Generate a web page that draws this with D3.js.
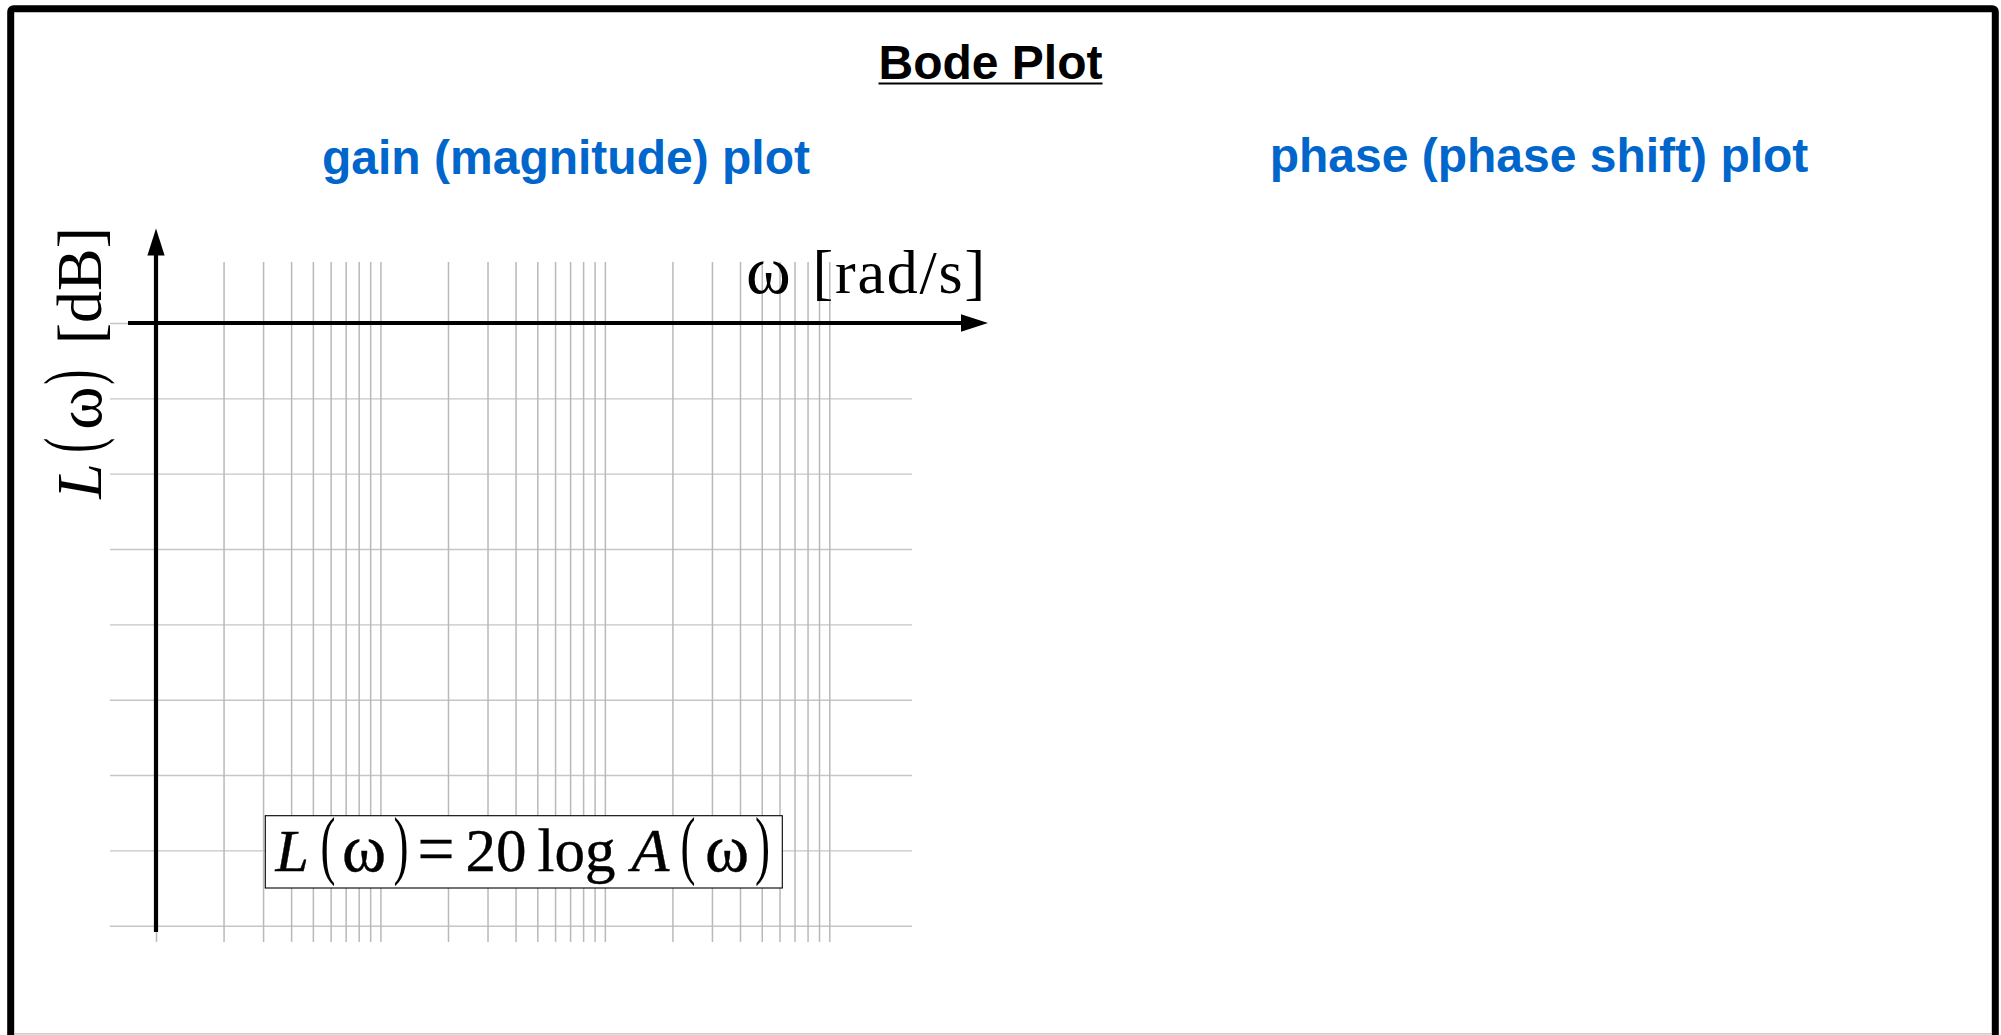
<!DOCTYPE html>
<html>
<head>
<meta charset="utf-8">
<script src="https://cdn.jsdelivr.net/npm/d3@7"></script>
<style>
  html, body { margin: 0; padding: 0; background: #fff; overflow: hidden; }
  svg { display: block; }
</style>
</head>
<body>
<svg id="chart" width="2001" height="1035"></svg>
<script>
// ---- content -------------------------------------------------------------
const chartTitle   = "Bode Plot";
const panelTitles  = ["gain (magnitude) plot", "phase (phase shift) plot"];
const freqDomain   = [1, 1000];                                        // ω in rad/s, three decades
const dbLevels     = [0, -20, -40, -60, -80, -100, -120, -140, -160];  // L(ω) grid levels in dB
const xAxisLabel   = ["ω", "[rad/s]"];
const yAxisUnit    = "[dB]";
// L(ω) = 20 log A(ω), one entry per typeset piece
const formulaText  = ["L", "(", "ω", ")", "=", "20", "log", "A", "(", "ω", ")"];

// ---- styling / layout ----------------------------------------------------
const SANS  = "'Liberation Sans', Arial, sans-serif";
const SERIF = "'Liberation Serif', 'Times New Roman', serif";
const BLUE  = "#0066cc";

const svg = d3.select("#chart");

// outer frame
svg.append("rect")
  .attr("x", 10.7).attr("y", 8.7)
  .attr("width", 1984.6).attr("height", 1070)
  .attr("rx", 3)
  .attr("fill", "#fff").attr("stroke", "#000").attr("stroke-width", 7);
svg.append("line")
  .attr("x1", 14).attr("x2", 1992).attr("y1", 1033.8).attr("y2", 1033.8)
  .attr("stroke", "#bdbdbd").attr("stroke-width", 1.3);

// titles
const title = svg.append("text")
  .attr("x", 990.5).attr("y", 79)
  .attr("text-anchor", "middle")
  .attr("font-family", SANS).attr("font-weight", "bold").attr("font-size", 48)
  .attr("fill", "#000")
  .text(chartTitle);
const tw = title.node().getComputedTextLength();
svg.append("line")
  .attr("x1", 990.5 - tw / 2).attr("x2", 990.5 + tw / 2)
  .attr("y1", 83.5).attr("y2", 83.5)
  .attr("stroke", "#000").attr("stroke-width", 2.2);

svg.selectAll("text.panel-title")
  .data(panelTitles)
  .join("text")
  .attr("class", "panel-title")
  .attr("x", (d, i) => [566, 1539][i])
  .attr("y", (d, i) => [174, 171.5][i])
  .attr("text-anchor", "middle")
  .attr("font-family", SANS).attr("font-weight", "bold").attr("font-size", 48)
  .attr("fill", BLUE)
  .text(d => d);

// ---- gain plot scales & grid ----------------------------------------------
const x = d3.scaleLog().domain(freqDomain).range([156, 829.3]);
const y = d3.scaleLinear().domain([dbLevels[0], dbLevels[dbLevels.length - 1]]).range([323, 925.7]);

const gridLeft = 110, gridRight = 912;
const vTop = 262, vBottom = 942;

// horizontal dB grid lines
const hGrid = svg.append("g")
  .attr("transform", `translate(${gridLeft},0)`)
  .call(d3.axisLeft(y).tickValues(dbLevels).tickSize(-(gridRight - gridLeft)).tickFormat(""));
hGrid.select(".domain").remove();
hGrid.selectAll(".tick line").attr("stroke", "#c6c6c6").attr("stroke-width", 1.4);

// vertical log-frequency grid lines (1..9 per decade)
const vGrid = svg.append("g")
  .attr("transform", `translate(0,${vTop})`)
  .call(d3.axisTop(x).tickValues(x.ticks()).tickSize(-(vBottom - vTop)).tickFormat(""));
vGrid.select(".domain").remove();
vGrid.selectAll(".tick line").attr("stroke", "#b9b9b9").attr("stroke-width", 1.5);

// ---- axes with arrow heads -----------------------------------------------
const ax0 = x(freqDomain[0]);
const ay0 = y(dbLevels[0]);

svg.append("line")
  .attr("x1", ax0).attr("x2", ax0).attr("y1", 250).attr("y2", 932)
  .attr("stroke", "#000").attr("stroke-width", 4.2);
svg.append("path")
  .attr("d", `M${ax0},228.5 L${ax0 - 8.6},255.5 L${ax0 + 8.6},255.5 Z`)
  .attr("fill", "#000");

svg.append("line")
  .attr("x1", 128).attr("x2", 966).attr("y1", ay0).attr("y2", ay0)
  .attr("stroke", "#000").attr("stroke-width", 4.2);
svg.append("path")
  .attr("d", `M988,${ay0} L961,${ay0 - 8.7} L961,${ay0 + 8.7} Z`)
  .attr("fill", "#000");

// x-axis label
const xl = svg.append("text")
  .attr("y", 293.3)
  .attr("font-family", SERIF).attr("font-size", 62).attr("fill", "#000");
xl.append("tspan").attr("x", 746).attr("font-size", 68).text(xAxisLabel[0]);
xl.append("tspan").attr("x", 812.5).attr("letter-spacing", 1.8).text(xAxisLabel[1]);

// ---- math typesetting ------------------------------------------------------
// per-piece horizontal offset (px) and font size relative to the base size
const italicPieces = new Set(["L", "A"]);
const PAREN_FS = 45;

function typeset(g, pieces, offsets, sizes, opts) {
  pieces.forEach((p, i) => {
    const px = offsets[i];
    if (p === "(" || p === ")") {
      // tall, thin stretchy delimiters
      g.append("text")
        .attr("transform", `translate(${px},${opts.parenCenter}) scale(1,${opts.parenScale})`)
        .attr("y", 0.25 * PAREN_FS)
        .attr("font-family", SERIF).attr("font-size", PAREN_FS).attr("fill", "#000")
        .text(p);
    } else {
      const t = g.append("text")
        .attr("x", px).attr("y", p === "=" ? 1.5 : 0)
        .attr("font-family", SERIF).attr("font-size", sizes[i]).attr("fill", "#000")
        .attr("font-style", italicPieces.has(p) ? "italic" : "normal")
        .attr("stroke", "#000").attr("stroke-width", opts.weight || 0)
        .text(p);
      if (p === "=") t.attr("textLength", 37).attr("lengthAdjust", "spacingAndGlyphs");
    }
  });
}

// formula box
svg.append("rect")
  .attr("x", 265.3).attr("y", 815.7)
  .attr("width", 517).attr("height", 72.3)
  .attr("fill", "#fff").attr("stroke", "#000").attr("stroke-width", 1.1);
const fg = svg.append("g").attr("transform", "translate(275.5,871)");
typeset(fg, formulaText,
  [0, 45, 66.5, 118, 142, 190, 262, 356, 405, 429.5, 479.5],
  [60, 0, 67, 0, 72, 61, 61, 62, 0, 67, 0],
  { parenCenter: -19.8, parenScale: 1.71, weight: 0.4 });

// y-axis label, rotated: L(ω) [dB]
const yg = svg.append("g").attr("transform", "translate(101,498.7) rotate(-90)");
typeset(yg, formulaText.slice(0, 4),
  [0, 46, 69, 114],
  [64, 0, 66, 0],
  { parenCenter: -22.7, parenScale: 1.74, weight: 0 });
yg.append("text")
  .attr("x", 154.4).attr("y", 0)
  .attr("font-family", SERIF).attr("font-size", 64).attr("fill", "#000")
  .text(yAxisUnit);
</script>
</body>
</html>
